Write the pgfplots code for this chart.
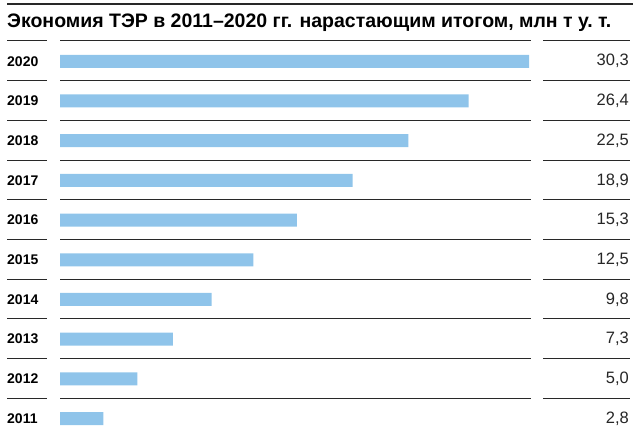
\documentclass[border=0pt]{standalone}
\usepackage{fontspec}
\setmainfont{Liberation Sans}
\usepackage{pgfplots}
\pgfplotsset{compat=1.18}
\usepackage{pgfplotstable}
\definecolor{barblue}{RGB}{143,196,234}
\definecolor{rulegray}{RGB}{40,40,40}

% cumulative savings, mln t c.e.
\pgfplotstableread{
y year v
0 2011 2.8
1 2012 5.0
2 2013 7.3
3 2014 9.8
4 2015 12.5
5 2016 15.3
6 2017 18.9
7 2018 22.5
8 2019 26.4
9 2020 30.3
}\tejdata

\begin{document}
\begin{tikzpicture}
\useasboundingbox (0,0) rectangle (633bp,429bp);
\begin{axis}[
  at={(60bp,-9.4bp)}, anchor=south west,
  scale only axis, width=469bp, height=397bp,
  xmin=0, xmax=30.3, ymin=-0.5, ymax=9.5,
  clip=false,
  axis line style={draw=none}, tick style={draw=none},
  xtick=\empty,
  ytick={0,...,9},
  yticklabels from table={\tejdata}{year},
  yticklabel style={anchor=west, inner sep=0pt, xshift=-53bp,
    font=\fontsize{14bp}{16bp}\selectfont\bfseries},
  /pgf/number format/assume math mode=true,
]
\addplot[xbar, bar width=13bp, fill=barblue, draw=none] table[x=v, y=y] {\tejdata};
\addplot[draw=none, mark=none, point meta=\thisrow{v},
  nodes near coords={\pgfmathprintnumber[fixed,fixed zerofill,precision=1,use comma,assume math mode=true]{\pgfplotspointmeta}},
  nodes near coords style={anchor=east, inner sep=0pt, text=black!85,
    font=\fontsize{16.5bp}{18bp}\selectfont}]
  table[x expr=36.76, y=y] {\tejdata};
\end{axis}
\foreach \k in {0,...,9}{
  \pgfmathsetmacro\yy{429-41-39.7*\k}
  \draw[rulegray, line width=1bp] (7bp,\yy bp) -- (47bp,\yy bp)
    (60bp,\yy bp) -- (531bp,\yy bp) (543bp,\yy bp) -- (630bp,\yy bp);
}
\draw[rulegray, line width=1.2bp] (7bp,425bp) -- (633bp,425bp);
\node[anchor=base west, inner sep=0pt, font=\fontsize{19.5bp}{22bp}\selectfont\bfseries]
  at (7bp,401bp) {Экономия ТЭР в 2011–2020 гг. нарастающим итогом, млн т у.~т.};
\end{tikzpicture}
\end{document}
